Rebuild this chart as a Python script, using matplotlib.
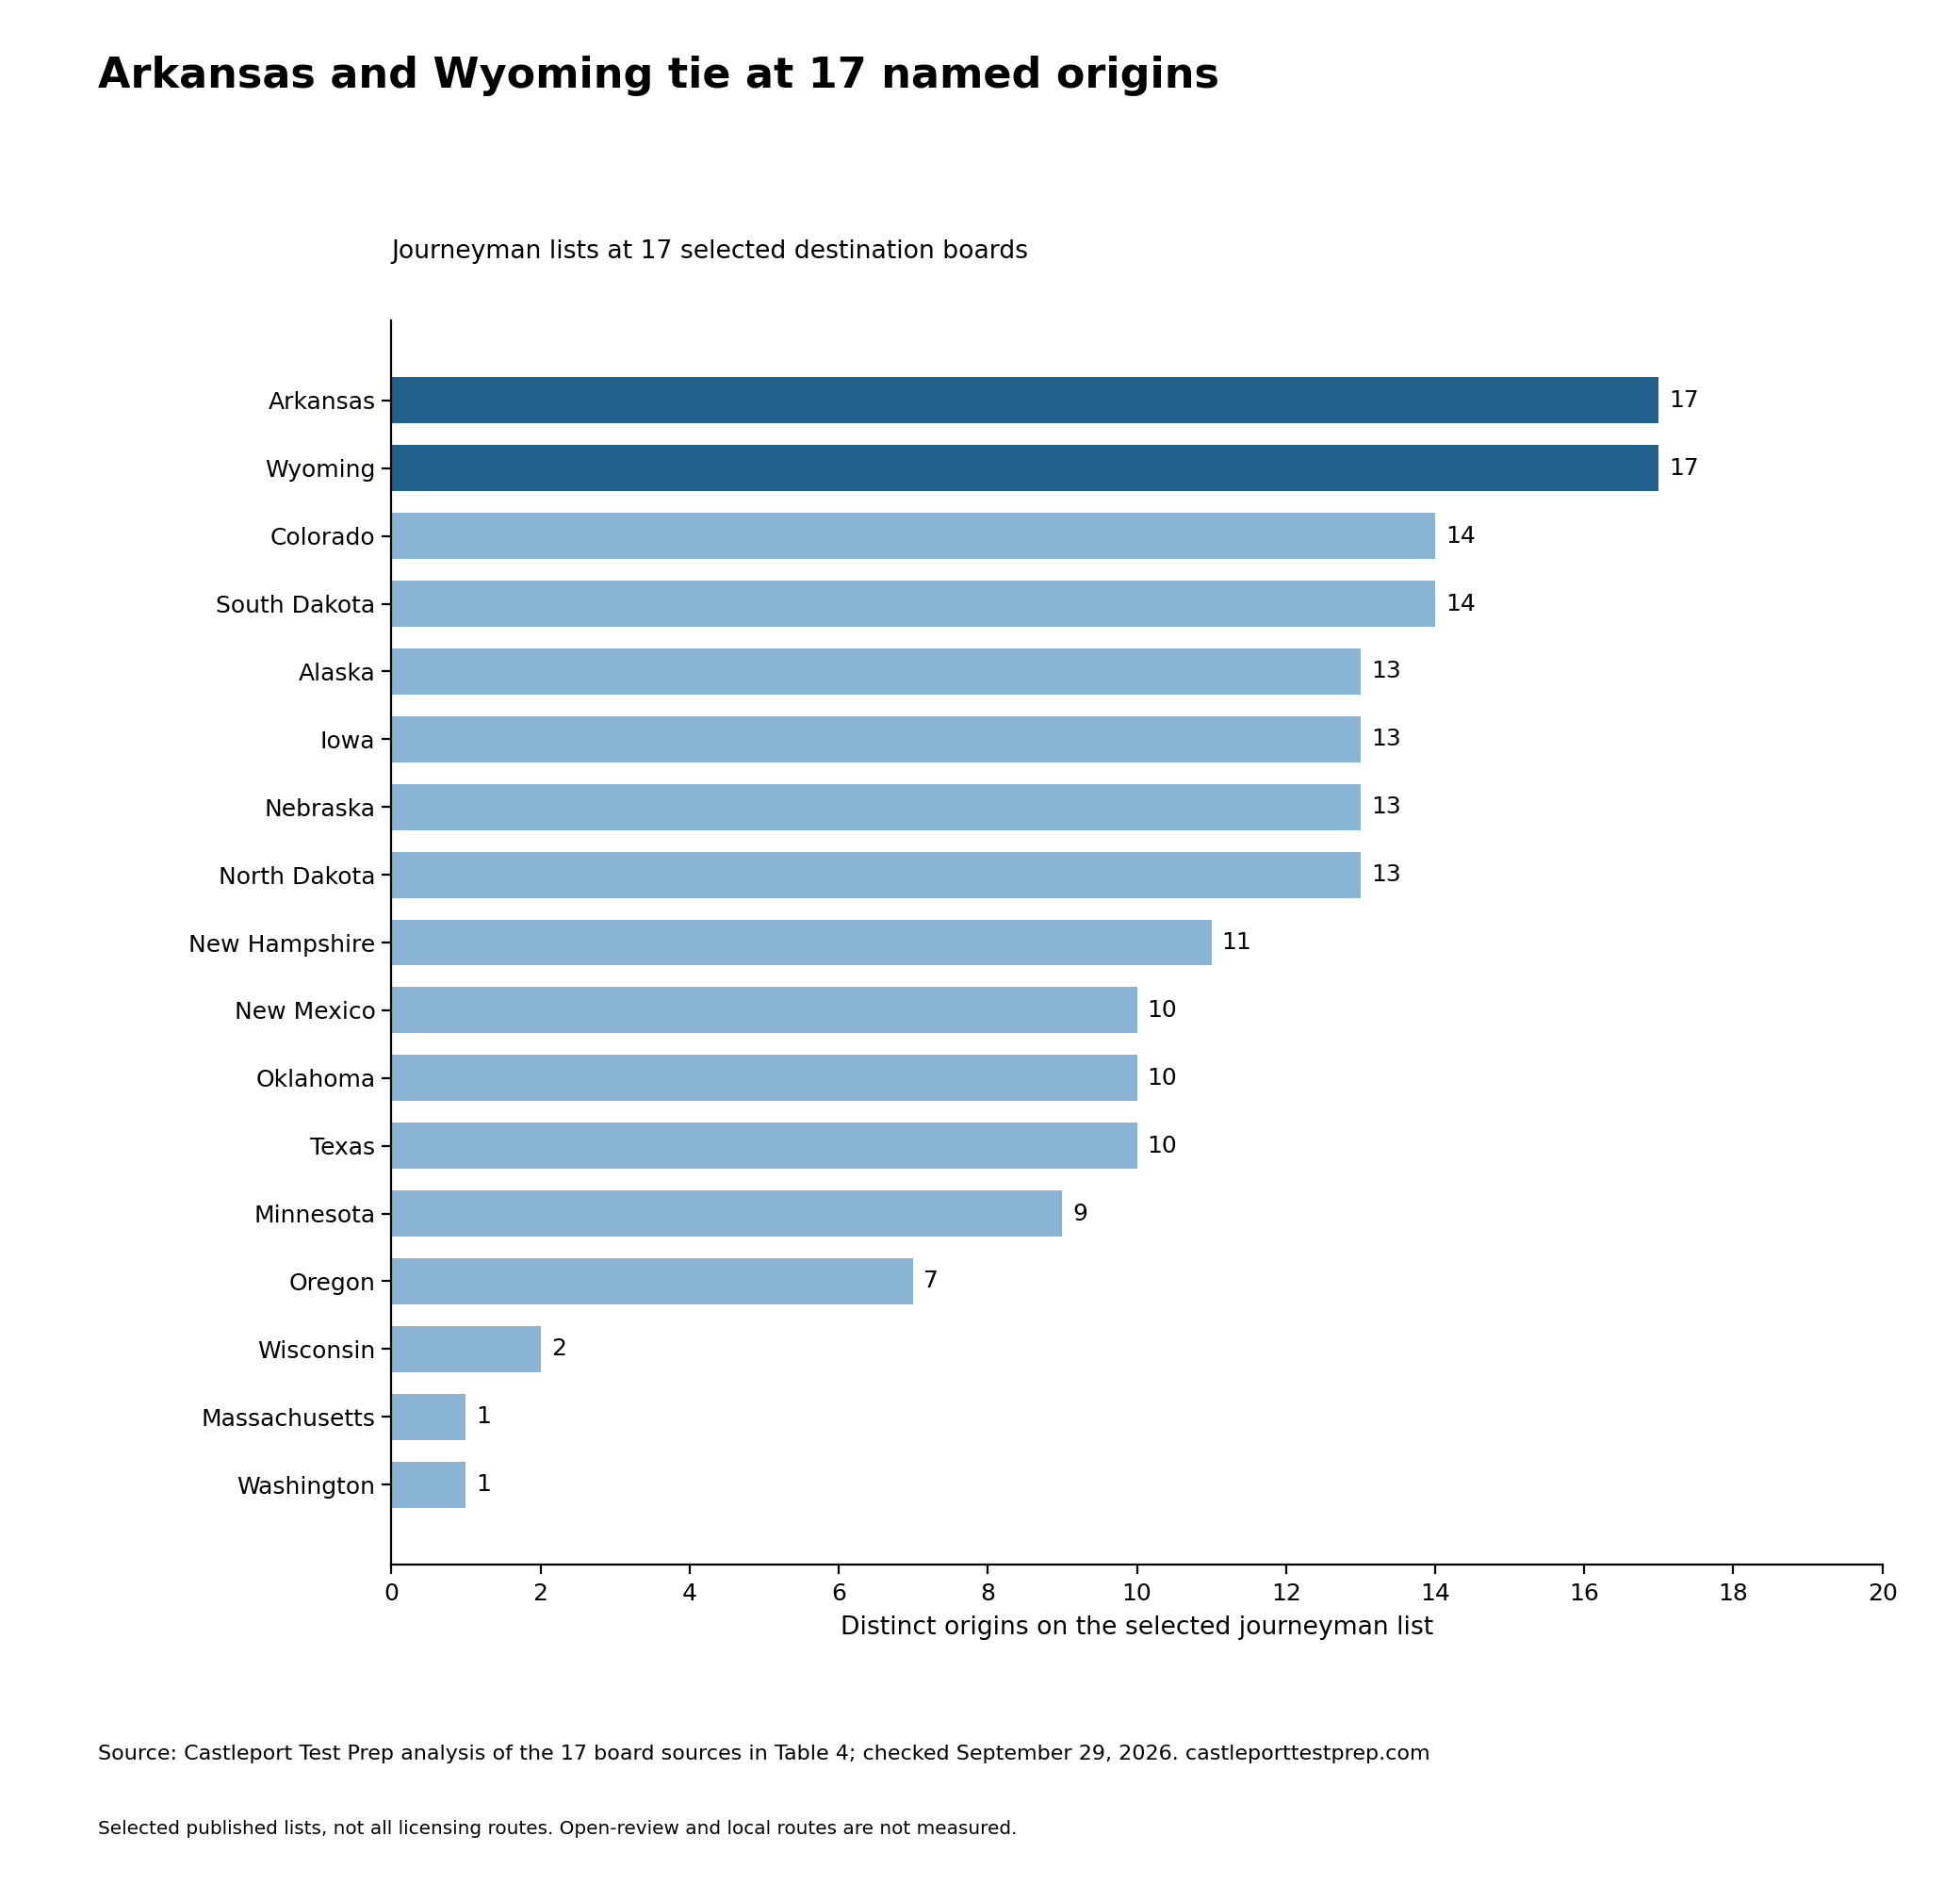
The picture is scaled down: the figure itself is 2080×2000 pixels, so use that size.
import matplotlib
matplotlib.use("Agg")
import matplotlib.pyplot as plt

states = ["Arkansas", "Wyoming", "Colorado", "South Dakota", "Alaska", "Iowa",
          "Nebraska", "North Dakota", "New Hampshire", "New Mexico", "Oklahoma",
          "Texas", "Minnesota", "Oregon", "Wisconsin", "Massachusetts", "Washington"]
origins = [17, 17, 14, 14, 13, 13, 13, 13, 11, 10, 10, 10, 9, 7, 2, 1, 1]
highlight = ["Arkansas", "Wyoming"]

DARK = "#21618c"
LIGHT = "#89b4d4"

fig = plt.figure(figsize=(10.4, 10), dpi=200)
ax = fig.add_axes([0.1997, 0.1702, 0.7607, 0.6596])

colors = [DARK if s in highlight else LIGHT for s in states]
ypos = list(range(len(states)))
bars = ax.barh(ypos, origins, height=0.68, color=colors)
ax.set_yticks(ypos)
ax.set_yticklabels(states, fontsize=9)
ax.tick_params(axis="y", pad=2.6)
ax.invert_yaxis()
ax.set_xlim(0, 20)
ax.set_xticks(range(0, 21, 2))
ax.tick_params(axis="x", labelsize=9)
for b, v in zip(bars, origins):
    ax.annotate(str(v), (v, b.get_y() + b.get_height() / 2), xytext=(4, 0),
                textcoords="offset points", va="center", ha="left", fontsize=9)

for s in ["top", "right"]:
    ax.spines[s].set_visible(False)

ax.set_xlabel("Distinct origins on the selected journeyman list", fontsize=9.6, labelpad=4)
ax.set_title("Journeyman lists at 17 selected destination boards", loc="left",
             fontsize=9.6, pad=24)

fig.text(0.05, 0.96, "Arkansas and Wyoming tie at 17 named origins", fontsize=16,
         fontweight="bold", va="center", ha="left")
fig.text(0.05, 0.0693, "Source: Castleport Test Prep analysis of the 17 board sources in Table 4; "
         "checked September 29, 2026. castleporttestprep.com", fontsize=8, va="center", ha="left")
fig.text(0.05, 0.030, "Selected published lists, not all licensing routes. Open-review and local "
         "routes are not measured.", fontsize=7.2, va="center", ha="left")

fig.savefig("out.png", dpi=200)
